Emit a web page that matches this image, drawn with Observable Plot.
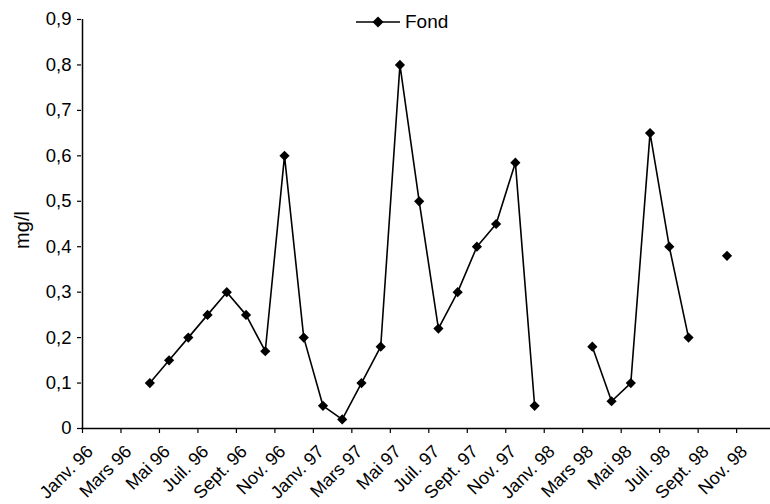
<!DOCTYPE html>
<html><head><meta charset="utf-8">
<script src="https://cdn.jsdelivr.net/npm/d3@7"></script>
<script src="https://cdn.jsdelivr.net/npm/@observablehq/plot@0.6"></script>
<style>
body{margin:0;background:#fff;}
#wrap{position:relative;width:770px;height:504px;font-family:"Liberation Sans",Arial,sans-serif;}
#legend{position:absolute;left:356px;top:11px;height:22px;display:flex;align-items:center;font-size:19px;color:#000;}
#legend span{margin-left:5px;}
</style></head><body><div id="wrap"><div id="legend"></div></div>
<script>
const monthNames = ["Janv.","Févr.","Mars","Avr.","Mai","Juin","Juil.","Août","Sept.","Oct.","Nov.","Déc."];
const years = ["96","97","98"];
const seriesName = "Fond";
const values = [
  null, null, null, 0.10, 0.15, 0.20, 0.25, 0.30, 0.25, 0.17, 0.60, 0.20,
  0.05, 0.02, 0.10, 0.18, 0.80, 0.50, 0.22, 0.30, 0.40, 0.45, 0.585, 0.05,
  null, null, 0.18, 0.06, 0.10, 0.65, 0.40, 0.20, null, 0.38, null, null
];
const yTicks = [0, 0.1, 0.2, 0.3, 0.4, 0.5, 0.6, 0.7, 0.8, 0.9];

const data = values.map((v, i) => ({m: i + 0.5, v}));
const boundaryTicks = d3.range(0, 36, 2);
const labelTicks = boundaryTicks.map(i => i + 0.5);
const monthLabel = t => {
  const i = Math.floor(t);
  return monthNames[i % 12] + " " + years[Math.floor(i / 12)];
};

const chart = Plot.plot({
  width: 770, height: 504,
  marginLeft: 81, marginRight: 0, marginTop: 19, marginBottom: 76,
  style: {fontFamily: '"Liberation Sans", Arial, sans-serif', fontSize: "18.5px", color: "#000", background: "#fff"},
  x: {type: "linear", domain: [0, 36], range: [82, 774.6]},
  y: {domain: [0, 0.9]},
  marks: [
    Plot.axisX(boundaryTicks, {tickSize: 5, tickFormat: () => "", label: null, strokeWidth: 1.2}),
    Plot.axisX(labelTicks, {tickSize: 0, tickRotate: -45, tickPadding: 20, dx: -2, fontSize: 18, tickFormat: monthLabel, label: null}),
    Plot.axisY(yTicks, {tickSize: 4, tickPadding: 6, strokeWidth: 1.2,
      tickFormat: d => String(d).replace(".", ","),
      label: "mg/l", labelAnchor: "center", labelArrow: "none", labelOffset: 67}),
    Plot.ruleX([0], {stroke: "#000", strokeWidth: 1.5}),
    Plot.ruleY([0], {stroke: "#000", strokeWidth: 1.5}),
    Plot.line(data, {x: "m", y: "v", stroke: "#000", strokeWidth: 1.6}),
    Plot.dot(data.filter(d => d.v != null), {x: "m", y: "v", symbol: "diamond2", r: 4.6, fill: "#000", stroke: "none"})
  ]
});
const yl = chart.querySelector('g[aria-label="y-axis label"]');
if (yl) {
  const t = yl.getAttribute("transform") || "";
  yl.setAttribute("transform", (t + " translate(0,6)").trim());
  yl.setAttribute("font-size", "20px");
}
document.getElementById("wrap").appendChild(chart);

const lg = document.getElementById("legend");
lg.innerHTML = `<svg width="44" height="22"><line x1="0" x2="44" y1="11" y2="11" stroke="#000" stroke-width="1.6"/><path d="M22,5.5L27.5,11L22,16.5L16.5,11Z" fill="#000"/></svg><span>${seriesName}</span>`;
</script></body></html>
